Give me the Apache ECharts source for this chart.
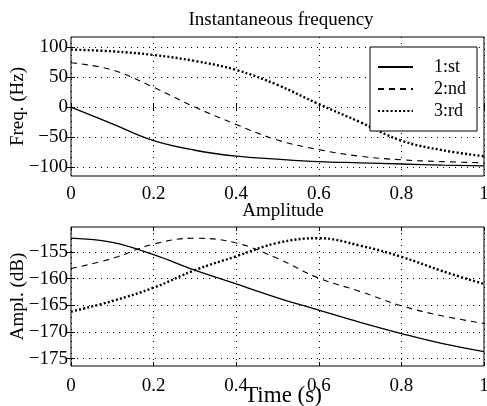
<!DOCTYPE html>
<html><head><meta charset="utf-8">
<script src="https://cdn.jsdelivr.net/npm/echarts@6/dist/echarts.min.js"></script>
<style>html,body{margin:0;padding:0;background:#fff}#c{width:487px;height:406px}</style>
</head><body><div id="c"></div>
<script>
const xs = [0, 0.1, 0.2, 0.3, 0.4, 0.5, 0.6, 0.7, 0.8, 0.9, 1.0];
const freq1 = [0, -28, -56, -72, -82, -87, -91, -93, -95, -97, -98];
const freq2 = [74, 62, 33, 0, -29, -55, -71, -82, -88, -91, -93];
const freq3 = [96, 93, 87, 77, 62, 37, 5, -25, -56, -72, -82];
const ampl1 = [-152.4, -153.2, -155.5, -158.4, -161.0, -163.6, -165.9, -168.2, -170.3, -172.2, -173.7];
const ampl2 = [-158.1, -156.2, -153.5, -152.4, -153.3, -156.2, -159.9, -162.4, -165.1, -167.0, -168.4];
const ampl3 = [-166.2, -164.2, -161.7, -158.4, -155.8, -153.3, -152.4, -153.8, -155.9, -158.6, -161.0];
const xTicks = [0, 0.2, 0.4, 0.6, 0.8, 1];
const freqTicks = [-100, -50, 0, 50, 100];
const amplTicks = [-175, -170, -165, -160, -155];
const names = ['1:st', '2:nd', '3:rd'];

const F = 'Liberation Serif';
const pair = (ys) => xs.map((x, i) => [x, ys[i]]);
const minus = v => String(v).replace('-', '\u2212');
const styles = [
  {type: 'solid', width: 1.3},
  {type: [6, 5], width: 1.1},
  {type: [2, 2.2], width: 2.4}
];

function xAx(gi, show, margin) {
  return {
    gridIndex: gi, type: 'value', min: 0, max: 1,
    axisLine: {show: false},
    axisTick: {show: true, inside: true, length: 4, lineStyle: {color: '#000'}, customValues: xTicks},
    axisLabel: {show: show, customValues: xTicks, color: '#000', fontFamily: F, fontSize: 19, margin: margin || 6, formatter: v => String(v)},
    splitLine: {show: show, lineStyle: {color: '#000', type: [1, 5], width: 1}},
    position: show ? 'bottom' : 'top'
  };
}
function yAx(gi, ticks, min, max, show, name) {
  return {
    gridIndex: gi, type: 'value', min: min, max: max,
    axisLine: {show: false},
    axisTick: {show: true, inside: true, length: 4, lineStyle: {color: '#000'}, customValues: ticks},
    axisLabel: {show: show, customValues: ticks, color: '#000', fontFamily: F, fontSize: 19, margin: 3, formatter: minus},
    splitLine: {show: show, lineStyle: {color: '#000', type: [1, 5], width: 1}},
    position: show ? 'left' : 'right',
    name: name || '', nameLocation: 'middle', nameGap: 43, nameRotate: 90, nameMoveOverlap: false,
    nameTextStyle: {fontFamily: F, fontSize: 19, color: '#000'}
  };
}

const chart = echarts.init(document.getElementById('c'), null, {renderer: 'canvas'});
const series = [];
[freq1, freq2, freq3].forEach((d, i) => series.push({
  name: names[i], type: 'line', xAxisIndex: 0, yAxisIndex: 0, data: pair(d),
  smooth: 0.4, showSymbol: false, symbol: 'none', silent: true, animation: false,
  lineStyle: Object.assign({color: '#000'}, styles[i]), itemStyle: {color: '#000'}
}));
[ampl1, ampl2, ampl3].forEach((d, i) => series.push({
  type: 'line', xAxisIndex: 2, yAxisIndex: 2, data: pair(d),
  smooth: 0.4, showSymbol: false, symbol: 'none', silent: true, animation: false,
  lineStyle: Object.assign({color: '#000'}, styles[i]), itemStyle: {color: '#000'}
}));

chart.setOption({
  animation: false,
  backgroundColor: '#fff',
  title: [
    {text: 'Instantaneous frequency', left: 276, top: 6, textAlign: 'center', textStyle: {fontFamily: F, fontSize: 19, fontWeight: 'normal', color: '#000'}},
    {text: 'Amplitude', left: 278, top: 197, textAlign: 'center', textStyle: {fontFamily: F, fontSize: 19, fontWeight: 'normal', color: '#000'}},
    {text: 'Time (s)', left: 278, top: 379, textAlign: 'center', textStyle: {fontFamily: F, fontSize: 23, fontWeight: 'normal', color: '#000'}}
  ],
  grid: [
    {left: 71, top: 37, width: 413, height: 139, show: true, borderColor: '#000', borderWidth: 1, backgroundColor: 'transparent', containLabel: false, outerBoundsMode: 'none'},
    {left: 71, top: 227, width: 413, height: 139, show: true, borderColor: '#000', borderWidth: 1, backgroundColor: 'transparent', containLabel: false, outerBoundsMode: 'none'}
  ],
  xAxis: [xAx(0, true, 9), xAx(0, false), xAx(1, true, 11), xAx(1, false)],
  yAxis: [
    yAx(0, freqTicks, -115, 117, true, 'Freq. (Hz)'), yAx(0, freqTicks, -115, 117, false),
    yAx(1, amplTicks, -176.4, -150.3, true, 'Ampl. (dB)'), yAx(1, amplTicks, -176.4, -150.3, false)
  ],
  legend: {
    data: names, orient: 'vertical', left: 370, top: 47,
    backgroundColor: '#fff', borderColor: '#000', borderWidth: 1,
    padding: [11, 11, 11, 7], itemGap: 4, itemWidth: 35, itemHeight: 14,
    selectedMode: false,
    itemStyle: {opacity: 0},
    textStyle: {fontFamily: F, fontSize: 18, color: '#000', padding: [0, 0, 0, 16]}
  },
  series: series
});
</script></body></html>
